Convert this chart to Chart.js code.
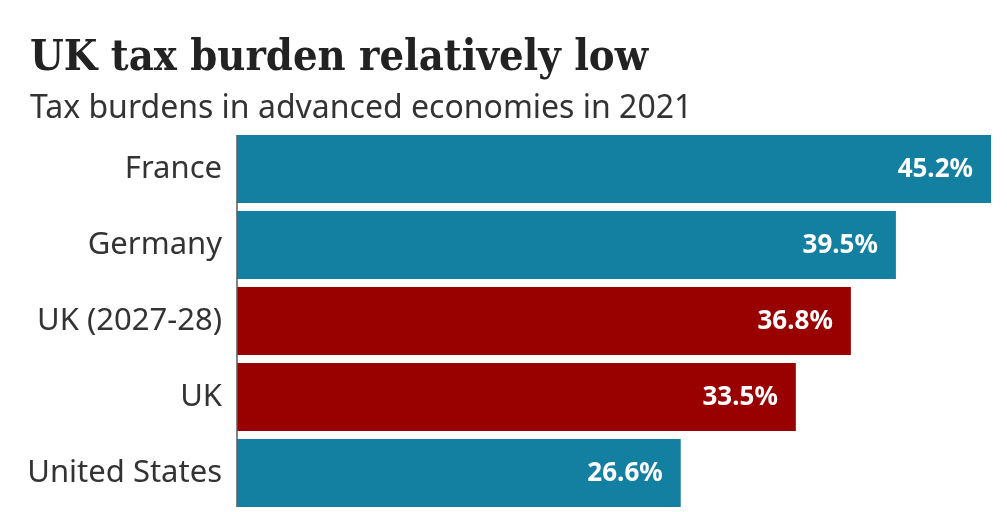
<!DOCTYPE html>
<html>
<head>
<meta charset="utf-8">
<script src="https://cdn.jsdelivr.net/npm/chart.js@4/dist/chart.umd.min.js"></script>
<style>
  html, body { margin: 0; padding: 0; background: #ffffff; }
  #wrap { width: 1007px; height: 512px; position: relative; }
</style>
</head>
<body>
<div id="wrap"><canvas id="c" width="1007" height="512"></canvas></div>
<script>
const titleText = "UK tax burden relatively low";
const subtitleText = "Tax burdens in advanced economies in 2021";
const categories = ["France", "Germany", "UK (2027-28)", "UK", "United States"];
const taxBurden = [45.2, 39.5, 36.8, 33.5, 26.6];
const highlighted = ["UK (2027-28)", "UK"];

const BLUE = "#1380A1";
const RED = "#990000";
const barColors = categories.map(c => highlighted.includes(c) ? RED : BLUE);

const headerPlugin = {
  id: "header",
  afterDraw(chart) {
    const ctx = chart.ctx;
    ctx.save();
    ctx.textAlign = "left";
    ctx.textBaseline = "alphabetic";
    ctx.fillStyle = "#222222";
    ctx.font = "bold 43px 'DejaVu Serif Condensed', 'DejaVu Serif'";
    ctx.fillText(titleText, 30, 70);
    ctx.fillStyle = "#333333";
    ctx.font = "32px 'Noto Sans'";
    ctx.fillText(subtitleText, 30, 118);
    ctx.restore();
  }
};

// Baseline (zero) line spanning the bars, drawn from the category scale
const baseLine = {
  id: "baseLine",
  afterDatasetsDraw(chart) {
    const meta = chart.getDatasetMeta(0);
    const first = meta.data[0], last = meta.data[meta.data.length - 1];
    const x0 = chart.scales.x.getPixelForValue(0);
    const ctx = chart.ctx;
    ctx.save();
    ctx.strokeStyle = "#5a5a5a";
    ctx.lineWidth = 1.5;
    ctx.beginPath();
    ctx.moveTo(x0, first.y - first.height / 2);
    ctx.lineTo(x0, last.y + last.height / 2);
    ctx.stroke();
    ctx.restore();
  }
};

const valueLabels = {
  id: "valueLabels",
  afterDatasetsDraw(chart) {
    const ctx = chart.ctx;
    const meta = chart.getDatasetMeta(0);
    ctx.save();
    ctx.fillStyle = "#ffffff";
    ctx.font = "bold 26px 'Noto Sans'";
    ctx.textAlign = "right";
    ctx.textBaseline = "middle";
    meta.data.forEach((bar, i) => {
      ctx.fillText(taxBurden[i].toFixed(1) + "%", bar.x - 18, bar.y + 1);
    });
    ctx.restore();
  }
};

new Chart(document.getElementById("c"), {
  type: "bar",
  data: {
    labels: categories,
    datasets: [{
      data: taxBurden,
      backgroundColor: barColors,
      borderWidth: 0,
      categoryPercentage: 1,
      barPercentage: 0.895
    }]
  },
  options: {
    indexAxis: "y",
    responsive: false,
    animation: false,
    layout: { padding: { left: 30, right: 16, top: 131, bottom: 1 } },
    plugins: {
      legend: { display: false },
      tooltip: { enabled: false }
    },
    scales: {
      x: { display: false, min: 0, max: 45.2 },
      y: {
        afterFit(scale) { scale.width = 207; scale.paddingTop = 0; scale.paddingBottom = 0; },
        grid: { display: false, drawTicks: false },
        border: { display: false },
        ticks: {
          color: "#333333",
          font: { family: "'Noto Sans'", size: 31 },
          padding: 15
        }
      }
    }
  },
  plugins: [headerPlugin, baseLine, valueLabels]
});
</script>
</body>
</html>
